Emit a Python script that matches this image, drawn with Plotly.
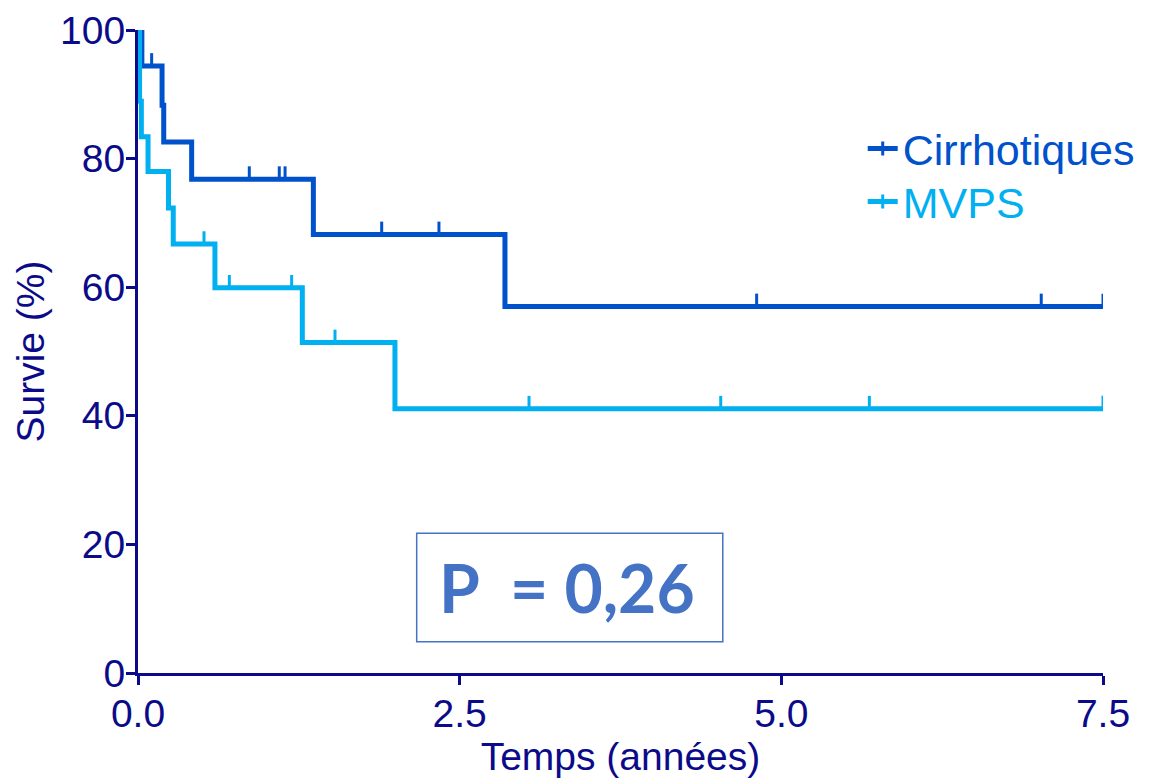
import plotly.graph_objects as go

# ---- data ----
cirr_times = [0.0, 0.03, 0.187, 0.20, 0.417, 1.363, 2.852, 7.5]
cirr_surv = [100.0, 94.4, 88.3, 82.6, 76.8, 68.2, 57.0, 57.0]
cirr_cens_t = [0.01, 0.106, 0.865, 1.098, 1.143, 1.894, 2.339, 4.808, 7.02, 7.5]
cirr_cens_s = [100.0, 94.4, 76.8, 76.8, 76.8, 68.2, 68.2, 57.0, 57.0, 57.0]

mvps_times = [0.0, 0.012, 0.026, 0.078, 0.237, 0.274, 0.598, 1.277, 1.997, 7.5]
mvps_surv = [100.0, 88.9, 83.4, 78.0, 72.3, 66.7, 59.9, 51.4, 41.1, 41.1]
mvps_cens_t = [0.513, 0.71, 1.194, 1.531, 3.039, 4.529, 5.684, 7.5]
mvps_cens_s = [66.7, 59.9, 59.9, 51.4, 41.1, 41.1, 41.1, 41.1]

x_ticks = [0.0, 2.5, 5.0, 7.5]
y_ticks = [0, 20, 40, 60, 80, 100]
p_text = "P\u00a0\u00a0= 0,26"

C_CIRR = "#0052CC"
C_MVPS = "#00B0F0"
NAVY = "#0B0B8A"
BOX = "#4472C4"
FONT = "Liberation Sans, Arial, sans-serif"

fig = go.Figure()


def add_group(times, surv, ct, cs, color, name, legend_id):
    fig.add_trace(go.Scatter(
        x=times, y=surv, mode="lines", line=dict(color=color, width=5, shape="hv"),
        showlegend=False, cliponaxis=False, hoverinfo="skip"))
    fig.add_trace(go.Scatter(
        x=ct, y=cs, mode="markers", marker=dict(size=1, color=color, opacity=0),
        error_y=dict(type="data", symmetric=False, array=[2.0] * len(ct),
                     arrayminus=[0.0] * len(ct), width=0, thickness=3, color=color),
        showlegend=False, cliponaxis=False, hoverinfo="skip"))
    fig.add_trace(go.Scatter(
        x=[None], y=[None], mode="lines+markers", line=dict(color=color, width=5),
        marker=dict(symbol="line-ns-open", size=10, color=color,
                    line=dict(color=color, width=3)),
        legend=legend_id,
        name=f"<span style='color:{color}'>{name}</span>"))


add_group(cirr_times, cirr_surv, cirr_cens_t, cirr_cens_s, C_CIRR, "Cirrhotiques", "legend")
add_group(mvps_times, mvps_surv, mvps_cens_t, mvps_cens_s, C_MVPS, "MVPS", "legend2")

fig.add_shape(type="rect", xref="paper", yref="paper",
              x0=0.2888, x1=0.606, y0=0.0487, y1=0.2173,
              line=dict(color=BOX, width=1.5), fillcolor="rgba(0,0,0,0)")
fig.add_annotation(xref="paper", yref="paper", x=0.445, y=0.133,
                   text=f"<b>{p_text}</b>", showarrow=False,
                   font=dict(family="Lato, Open Sans, sans-serif", size=66, color=BOX),
                   xanchor="center", yanchor="middle")

leg_common = dict(xanchor="left", yanchor="middle", font=dict(family=FONT, size=43),
                  bgcolor="rgba(0,0,0,0)", itemwidth=30)

fig.update_layout(
    width=1171, height=780,
    margin=dict(l=138, r=68, t=30, b=107),
    paper_bgcolor="white", plot_bgcolor="white",
    font=dict(family=FONT, color=NAVY),
    legend=dict(x=0.751, y=0.8156, **leg_common),
    legend2=dict(x=0.751, y=0.7331, **leg_common),
    xaxis=dict(range=[0, 7.5], tickvals=x_ticks, ticktext=[f"{v:.1f}" for v in x_ticks],
               showgrid=False, zeroline=False, showline=True, linecolor=NAVY, linewidth=3,
               ticks="outside", ticklen=9, tickwidth=3, tickcolor=NAVY, automargin=False,
               ticklabelstandoff=-5,
               tickfont=dict(size=39, color=NAVY),
               title=dict(text="Temps (années)", font=dict(size=39, color=NAVY), standoff=8)),
    yaxis=dict(range=[0, 100], tickvals=y_ticks,
               showgrid=False, zeroline=False, showline=True, linecolor=NAVY, linewidth=3,
               ticks="outside", ticklen=9, tickwidth=3, tickcolor=NAVY, automargin=False,
               ticklabelstandoff=-7,
               tickfont=dict(size=39, color=NAVY),
               title=dict(text="Survie (%)", font=dict(size=39, color=NAVY), standoff=4)),
)

fig.write_html("out.html", config={"displayModeBar": False},
               post_script="document.body.style.margin='0';")
